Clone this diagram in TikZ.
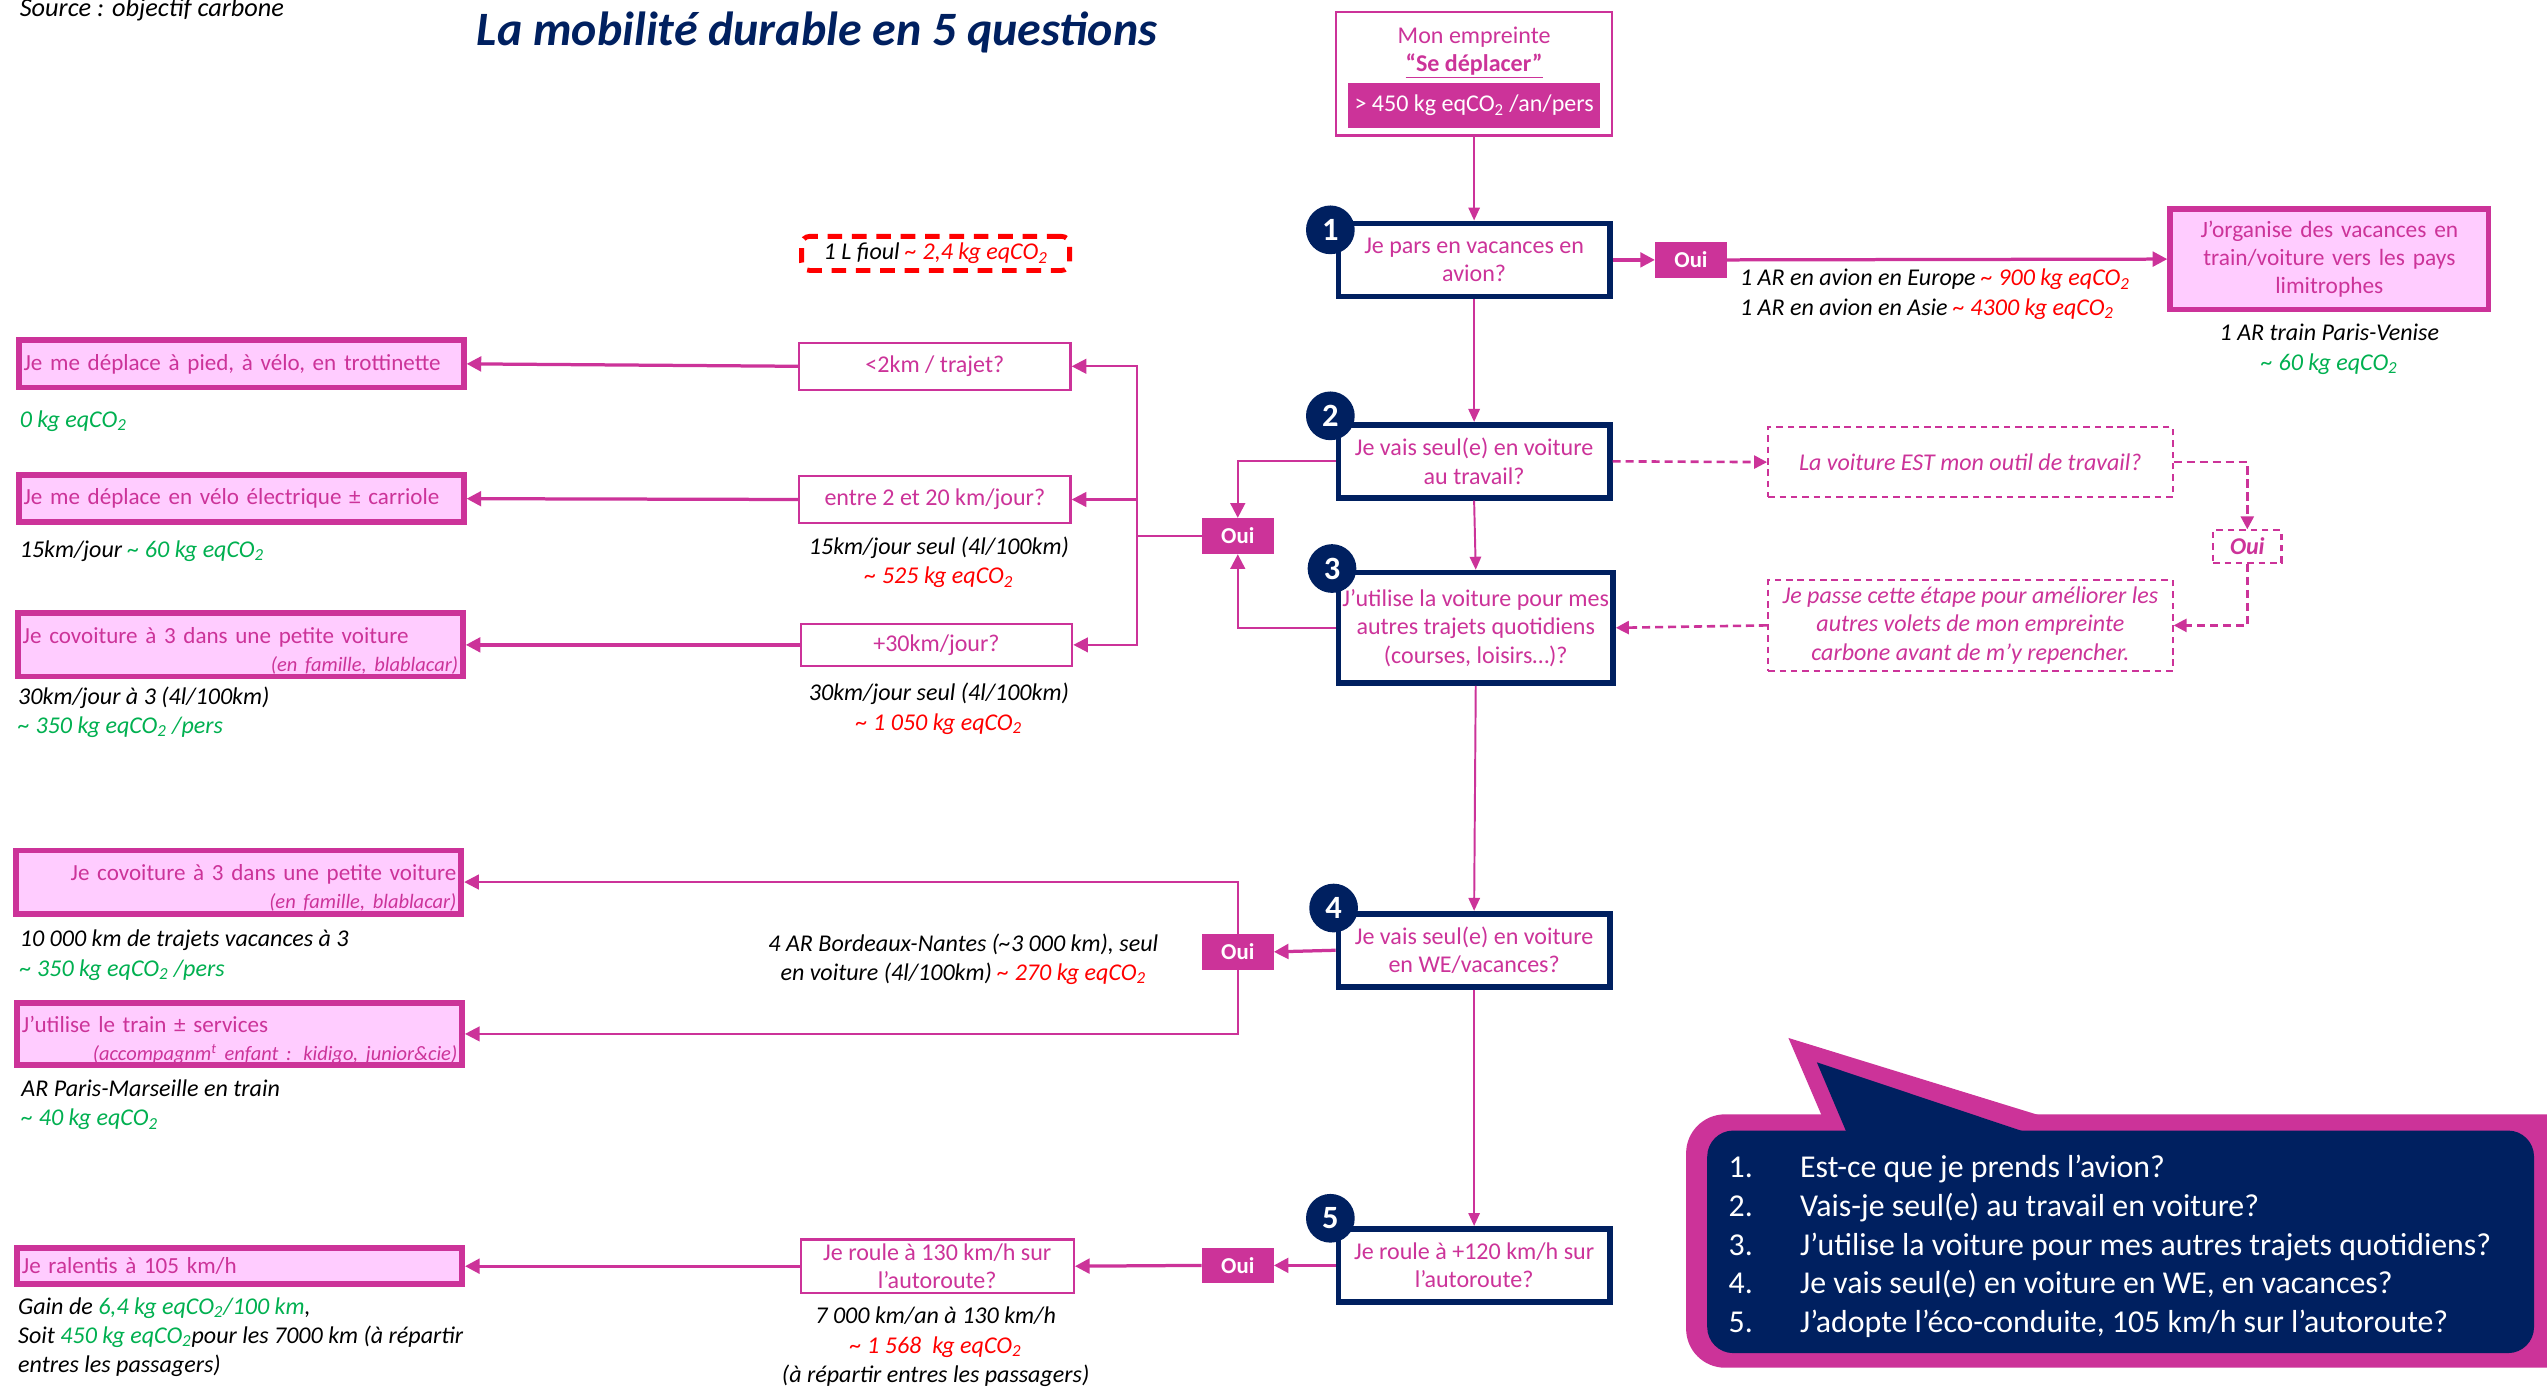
\documentclass[tikz,border=0pt]{standalone}
\usepackage{fontspec}
\setmainfont{Carlito}
\usetikzlibrary{arrows.meta,calc}
\definecolor{pk}{HTML}{CC3399}
\definecolor{nv}{HTML}{002060}
\definecolor{lp}{HTML}{FFCCFF}
\definecolor{gr}{HTML}{00B050}
\definecolor{rd}{HTML}{FF0000}
\newcommand{\eqco}{eqCO\textsubscript{2}}
\newcommand{\tld}{\textasciitilde}
\newcommand{\fsz}{\fontsize{14.8}{17.5}\selectfont}
\newcommand{\fsr}{\fontsize{14.2}{17}\selectfont}
\newcommand{\fss}{\itshape\fontsize{12.6}{14}\selectfont}
\newcommand{\lowr}{\rule{0pt}{17pt}}
\tikzset{
 qbox/.style={draw=nv, line width=3.5pt, fill=white, text=pk, align=center,
   minimum width=167pt, minimum height=45pt, font=\fsz, inner sep=0pt},
 num/.style={circle, fill=nv, text=white,
   font=\bfseries\fontsize{20}{20}\selectfont, minimum size=30pt, inner sep=0pt},
 oui/.style={fill=pk, text=white, font=\bfseries\fontsize{14}{14}\selectfont,
   minimum width=44pt, minimum height=22pt, inner sep=0pt},
 cbox/.style={draw=pk, line width=1.5pt, fill=white, text=pk, align=center,
   font=\fsz, inner sep=0pt, minimum width=167pt, minimum height=29pt},
 rbox/.style={draw=pk, line width=3.5pt, fill=lp, text=pk, font=\fsr,
   inner xsep=3pt, inner ysep=0pt, minimum height=29pt, text width=268pt, align=left},
 dbox/.style={draw=pk, line width=1.3pt, dash pattern=on 4pt off 3pt, text=pk,
   font=\itshape\fsz, align=center, inner sep=0pt, minimum width=249pt},
 note/.style={font=\itshape\fontsize{14.8}{18}\selectfont, inner sep=0pt, text=black},
 arr/.style={draw=pk, line width=1.2pt, -{Triangle[length=8pt,width=7pt]}},
 arrt/.style={draw=pk, line width=1.4pt, -{Triangle[length=9pt,width=9pt]}},
 arrb/.style={draw=pk, line width=2pt, -{Triangle[length=9pt,width=9pt]}},
 darr/.style={draw=pk, line width=1.6pt, dash pattern=on 5pt off 3pt, -{Triangle[length=8pt,width=8pt]}},
}
\begin{document}
\begin{tikzpicture}[x=1pt,y=-1pt]
\useasboundingbox (0,0) rectangle (1568,856);
\fill[white] (0,0) rectangle (1568,856);

% header
\node[note, font=\itshape\fontsize{16.2}{18}\selectfont, anchor=base west] (src) at (12,10) {Source : objectif carbone};
\node[inner sep=0pt, text=nv, font=\bfseries\itshape\fontsize{29.5}{32}\selectfont] (title) at (503,20) {La mobilité durable en 5 questions};

% top box
\node[draw=pk, line width=1.5pt, fill=white, minimum width=170pt, minimum height=76pt, inner sep=0pt] (top) at (907.5,45.5) {};
\node[text=pk, font=\fsz, align=center, inner sep=0pt] (toptxt) at (907.5,32.5) {Mon empreinte\\\textbf{\underline{“Se déplacer”}}};
\node[fill=pk, text=white, font=\fsz, minimum width=155pt, minimum height=28pt, inner sep=0pt] (emp) at (907.5,65) {> 450 kg \eqco{} /an/pers};

% question boxes
\node[qbox] (q1) at (907.5,160) {Je pars en vacances en\\avion?};
\node[qbox] (q2) at (907.5,284) {Je vais seul(e) en voiture\\au travail?};
\node[qbox, minimum width=169pt, minimum height=68pt] (q3) at (908.5,386.5) {J’utilise la voiture pour mes\\autres trajets quotidiens\\(courses, loisirs…)?};
\node[qbox] (q4) at (907.5,585) {Je vais seul(e) en voiture\\en WE/vacances?};
\node[qbox] (q5) at (907.5,779) {Je roule à +120 km/h sur\\l’autoroute?};

\node[num] (n1) at (819,141.5) {1};
\node[num] (n2) at (819,256) {2};
\node[num] (n3) at (820,350) {3};
\node[num] (n4) at (821,559) {4};
\node[num] (n5) at (819,750) {5};

% Oui boxes
\node[oui] (o1) at (1041,160) {Oui};
\node[oui] (oL) at (762,330) {Oui};
\node[oui] (o4) at (762,586) {Oui};
\node[oui] (o5) at (762,779) {Oui};

% right result box (planes)
\node[rbox, font=\fontsize{14.4}{17.5}\selectfont, text width=190pt, align=center, minimum height=62pt] (org) at (1434,159.5) {J’organise des vacances en\\train/voiture vers les pays\\limitrophes};
\node[note, anchor=base west] (eur) at (1071,176) {1 AR en avion en Europe {\color{rd}\tld{} 900 kg \eqco}};
\node[note, anchor=base west] (asi) at (1071,194) {1 AR en avion en Asie {\color{rd}\tld{} 4300 kg \eqco}};
\node[note, align=center, anchor=north] (ven) at (1434,199.5) {1 AR train Paris-Venise\\{\color{gr}\tld{} 60 kg \eqco}};

% fuel note
\node[draw=rd, line width=3pt, dash pattern=on 9pt off 6pt, rounded corners=5pt, minimum width=165pt, minimum height=21pt, inner sep=0pt, font=\itshape\fsz] (fioul) at (576,156) {1 L fioul {\color{rd}\tld{} 2,4 kg \eqco}};

% condition boxes
\node[cbox] (k2) at (575.5,225.5) {<2km / trajet?};
\node[cbox] (k20) at (575.5,307.5) {entre 2 et 20 km/jour?};
\node[cbox, minimum height=26pt] (k30) at (576.5,397) {+30km/jour?};
\node[cbox, minimum width=168pt, minimum height=33pt] (k130) at (577,779.5) {Je roule à 130 km/h sur\\l’autoroute?};

\node[note, align=center, anchor=north] (t20) at (578,330.5) {15km/jour seul (4l/100km)\\{\color{rd}\tld{} 525 kg \eqco}};
\node[note, align=center, anchor=north] (t30) at (578,420.5) {30km/jour seul (4l/100km)\\{\color{rd}\tld{} 1 050 kg \eqco}};
\node[note, align=center, anchor=north] (t130) at (576,804.5) {7 000 km/an à 130 km/h\\{\color{rd}\tld{} 1 568~ kg \eqco}\\(à répartir entres les passagers)};

% left result boxes
\node[rbox] (r1) at (148.5,224) {Je me déplace à pied, à vélo, en trottinette};
\node[rbox] (r2) at (148.5,307) {Je me déplace en vélo électrique ± carriole};
\node[rbox, minimum height=39pt] (r3) at (148,397) {\lowr Je covoiture à 3 dans une petite voiture\\\makebox[268pt][r]{\fss(en famille, blablacar)}};
\node[rbox, minimum height=39pt] (r4) at (147,543) {\makebox[268pt][r]{\lowr Je covoiture à 3 dans une petite voiture}\\\makebox[268pt][r]{\fss(en famille, blablacar)}};
\node[rbox, minimum height=38pt] (r5) at (147.5,636.5) {\rule{0pt}{18pt}J’utilise le train ± services\\\makebox[268pt][r]{\fss(accompagnm\textsuperscript{t} enfant : kidigo, junior\&cie)}};
\node[rbox, minimum height=22pt] (r6) at (147.5,779.5) {Je ralentis à 105 km/h};

\node[note, anchor=base west] (s1) at (12,263) {\color{gr}0 kg \eqco};
\node[note, anchor=base west] (s2) at (12,343) {15km/jour {\color{gr}\tld{} 60 kg \eqco}};
\node[note, anchor=north west, align=left] (s3) at (11,422.5) {30km/jour à 3 (4l/100km)\\{\color{gr}\tld{} 350 kg \eqco{} /pers}};
\node[note, anchor=north west, align=left] (s4) at (12,572.5) {10 000 km de trajets vacances à 3\\{\color{gr}\tld{} 350 kg \eqco{} /pers}};
\node[note, anchor=north west, align=left] (s5) at (13,664.5) {AR Paris-Marseille en train\\{\color{gr}\tld{} 40 kg \eqco}};
\node[note, anchor=north west, align=left] (s6) at (11,798.5) {Gain de {\color{gr}6,4 kg \eqco/100 km},\\Soit {\color{gr}450 kg \eqco}pour les 7000 km (à répartir\\entres les passagers)};
\node[note, anchor=north, align=center] (bn) at (593,574.5) {4 AR Bordeaux-Nantes (\tld3 000 km), seul\\en voiture (4l/100km) {\color{rd}\tld{} 270 kg \eqco}};

% dashed branch
\node[dbox, minimum height=43pt] (d1) at (1213,284.5) {La voiture EST mon outil de travail?};
\node[dbox, minimum width=42pt, minimum height=20pt, font=\bfseries\itshape\fsz] (dO) at (1383.5,336.5) {Oui};
\node[dbox, minimum height=56pt] (d2) at (1213,385) {Je passe cette étape pour améliorer les\\autres volets de mon empreinte\\carbone avant de m’y repencher.};

% connectors main
\draw[arr] (top.south) -- (q1.north);
\draw[arr] (q1.south) -- (q2.north);
\draw[arr] (q2.south) -- (q3.north);
\draw[arr] (q3.south) -- (q4.north);
\draw[arr] (q4.south) -- (q5.north);

\draw[arrb] (q1.east) -- (o1.west);
\draw[arrb] (o1.east) -- (org.west);

\draw[arrt] (q2.west) -| (oL.north);
\draw[arrt] (q3.west) -| (oL.south);
\coordinate (jL) at (700,330);
\draw[draw=pk, line width=1.4pt] (oL.west) -- (jL);
\draw[arrt] (jL) |- (k2.east);
\draw[arrt] (jL) |- (k20.east);
\draw[arrt] (jL) |- (k30.east);
\draw[arrb] (k2.west) -- (r1.east);
\draw[arrb] (k20.west) -- (r2.east);
\draw[arrb] (k30.west) -- (r3.east);

\draw[darr] (q2.east) -- (d1.west);
\draw[darr] (d1.east) -| (dO.north);
\draw[darr] (dO.south) |- (d2.east);
\draw[darr] (d2.west) -- (q3.east);

\draw[arrb] (q4.west) -- (o4.east);
\draw[arrt] (o4.north) |- (r4.east);
\draw[arrt] (o4.south) |- (r5.east);

\draw[arrb] (q5.west) -- (o5.east);
\draw[arrb] (o5.west) -- (k130.east);
\draw[arrb] (k130.west) -- (r6.east);

% speech bubble
\fill[pk, rounded corners=24pt] (1038,686) rectangle (1590,842);
\fill[pk] (1122,688) -- (1101,639) -- (1260,688) -- cycle;
\fill[nv, rounded corners=16pt] (1051,696) rectangle (1560,833);
\fill[nv] (1138,700) -- (1118.5,654) -- (1256,700) -- cycle;
\node[text=white, font=\fontsize{19.6}{23.8}\selectfont, align=left, anchor=north west, inner sep=0pt] (bub) at (1064,711) {%
\makebox[44pt][l]{1.}Est-ce que je prends l’avion?\\
\makebox[44pt][l]{2.}Vais-je seul(e) au travail en voiture?\\
\makebox[44pt][l]{3.}J’utilise la voiture pour mes autres trajets quotidiens?\\
\makebox[44pt][l]{4.}Je vais seul(e) en voiture en WE, en vacances?\\
\makebox[44pt][l]{5.}J’adopte l’éco-conduite, 105 km/h sur l’autoroute?};
\end{tikzpicture}
\end{document}
